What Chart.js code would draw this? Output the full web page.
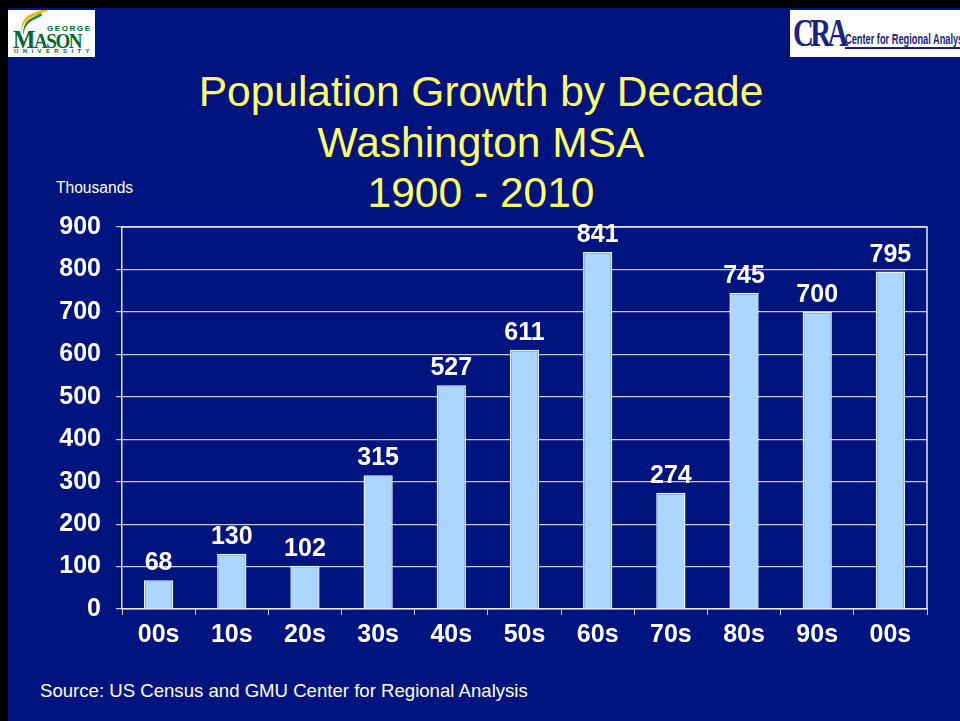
<!DOCTYPE html>
<html>
<head>
<meta charset="utf-8">
<script src="https://cdn.jsdelivr.net/npm/chart.js@4"></script>
<style>
  html, body { margin:0; padding:0; background:#000; }
  body { width:960px; height:721px; position:relative; overflow:hidden; font-family:"Liberation Sans", Arial, sans-serif; }
  #slide { position:absolute; left:8px; top:8px; width:952px; height:713px; background:#001480; }
  #chartWrap { position:absolute; left:0; top:0; width:960px; height:721px; }
  .title { position:absolute; left:0; width:962px; text-align:center; color:#FFFF66; font-size:42.5px; line-height:42px; }
  #thousands { position:absolute; left:56px; top:179px; color:#fff; font-size:15.6px; }
  #source { position:absolute; left:40px; top:680px; color:#fff; font-size:18.6px; }
  #gmu { position:absolute; left:8px; top:10px; width:87px; height:47px; background:#fff; overflow:hidden; }
  #cra { position:absolute; left:790px; top:10px; width:170px; height:47px; background:#fff; overflow:hidden; white-space:nowrap; }
</style>
</head>
<body>
<div id="slide"></div>
<div id="gmu">
  <div style="position:absolute;left:10px;top:3px;width:34px;height:14px;border-top:3px solid #F2B400;border-radius:34px 0 0 0;transform:rotate(-22deg);"></div>
  <div style="position:absolute;left:12px;top:8px;width:26px;height:12px;border-top:3px solid #2E8B3A;border-radius:26px 0 0 0;transform:rotate(-28deg);"></div>
  <div style="position:absolute;left:39px;top:14px;font-size:8px;font-weight:bold;color:#006633;letter-spacing:1.6px;">GEORGE</div>
  <div style="position:absolute;left:5px;top:16px;font-family:'Liberation Serif',serif;font-size:25px;font-weight:bold;color:#006633;letter-spacing:-1.5px;transform:scaleX(0.95);transform-origin:left;">M<span style="font-size:20px;">ASON</span></div>
  <div style="position:absolute;left:6px;top:38px;font-size:6px;font-weight:bold;color:#006633;letter-spacing:4.4px;">UNIVERSITY</div>
</div>
<div id="cra">
  <div style="position:absolute;left:3px;top:-1px;font-family:'Liberation Serif',serif;font-size:40px;font-weight:bold;color:#1a237e;letter-spacing:-5px;transform:scaleX(0.72);transform-origin:left;">CRA</div>
  <div style="position:absolute;left:55px;top:22px;font-size:14px;font-weight:bold;color:#1a237e;transform:scaleX(0.66);transform-origin:left;border-bottom:2px solid #1a237e;line-height:15px;">Center for Regional Analysis</div>
</div>
<div class="title" style="top:71px;">Population Growth by Decade</div>
<div class="title" style="top:122px;">Washington MSA</div>
<div class="title" style="top:172px;">1900 - 2010</div>
<div id="thousands">Thousands</div>
<div id="source">Source: US Census and GMU Center for Regional Analysis</div>
<div id="chartWrap"><canvas id="c" width="960" height="721"></canvas></div>
<script>
const decades = ["00s","10s","20s","30s","40s","50s","60s","70s","80s","90s","00s"];
const growthThousands = [68,130,102,315,527,611,841,274,745,700,795];
const yTicks = [0,100,200,300,400,500,600,700,800,900];

const boxPlugin = {
  id: 'box',
  afterDatasetsDraw(chart) {
    const {ctx, chartArea: a} = chart;
    ctx.save();
    ctx.strokeStyle = '#E6E6F0';
    ctx.lineWidth = 1.5;
    ctx.beginPath();
    ctx.moveTo(a.left, a.top); ctx.lineTo(a.right, a.top); ctx.lineTo(a.right, a.bottom);
    ctx.stroke();
    ctx.restore();
  }
};
const labelPlugin = {
  id: 'vals',
  afterDatasetsDraw(chart) {
    const {ctx} = chart;
    const meta = chart.getDatasetMeta(0);
    ctx.save();
    ctx.fillStyle = '#fff';
    ctx.font = 'bold 25px "Liberation Sans", Arial, sans-serif';
    ctx.textAlign = 'center';
    ctx.textBaseline = 'alphabetic';
    meta.data.forEach((bar, i) => {
      ctx.fillText(String(growthThousands[i]), bar.x, bar.y - 10);
    });
    ctx.restore();
  }
};

new Chart(document.getElementById('c'), {
  type: 'bar',
  data: {
    labels: decades,
    datasets: [{
      data: growthThousands,
      backgroundColor: '#AAD6FF',
      borderColor: '#E8F4FF',
      borderWidth: 1.5,
      barPercentage: 0.4,
      categoryPercentage: 1.0
    }]
  },
  options: {
    responsive: false,
    animation: false,
    layout: { padding: { left: 0, right: 33, top: 227, bottom: 0 } },
    plugins: { legend: { display: false }, tooltip: { enabled: false } },
    scales: {
      x: {
        offset: true,
        grid: { display: true, drawOnChartArea: false, drawTicks: true, tickLength: 6, color: '#D0D0E0', offset: true },
        border: { display: true, color: '#E6E6F0', width: 1.5 },
        ticks: { color: '#fff', font: { family: '"Liberation Sans", Arial, sans-serif', size: 25, weight: 'bold' }, padding: 5 },
        afterFit(scale) { scale.height = 112; }
      },
      y: {
        min: 0, max: 900,
        afterBuildTicks(scale) { scale.ticks = yTicks.map(v => ({ value: v })); },
        grid: { color: '#C8C8DC', lineWidth: 1.2, tickLength: 6, drawTicks: true },
        border: { display: true, color: '#E6E6F0', width: 1.5 },
        ticks: { color: '#fff', font: { family: '"Liberation Sans", Arial, sans-serif', size: 25, weight: 'bold' }, padding: 15 },
        afterFit(scale) { scale.width = 122; }
      }
    }
  },
  plugins: [boxPlugin, labelPlugin]
});
</script>
</body>
</html>
